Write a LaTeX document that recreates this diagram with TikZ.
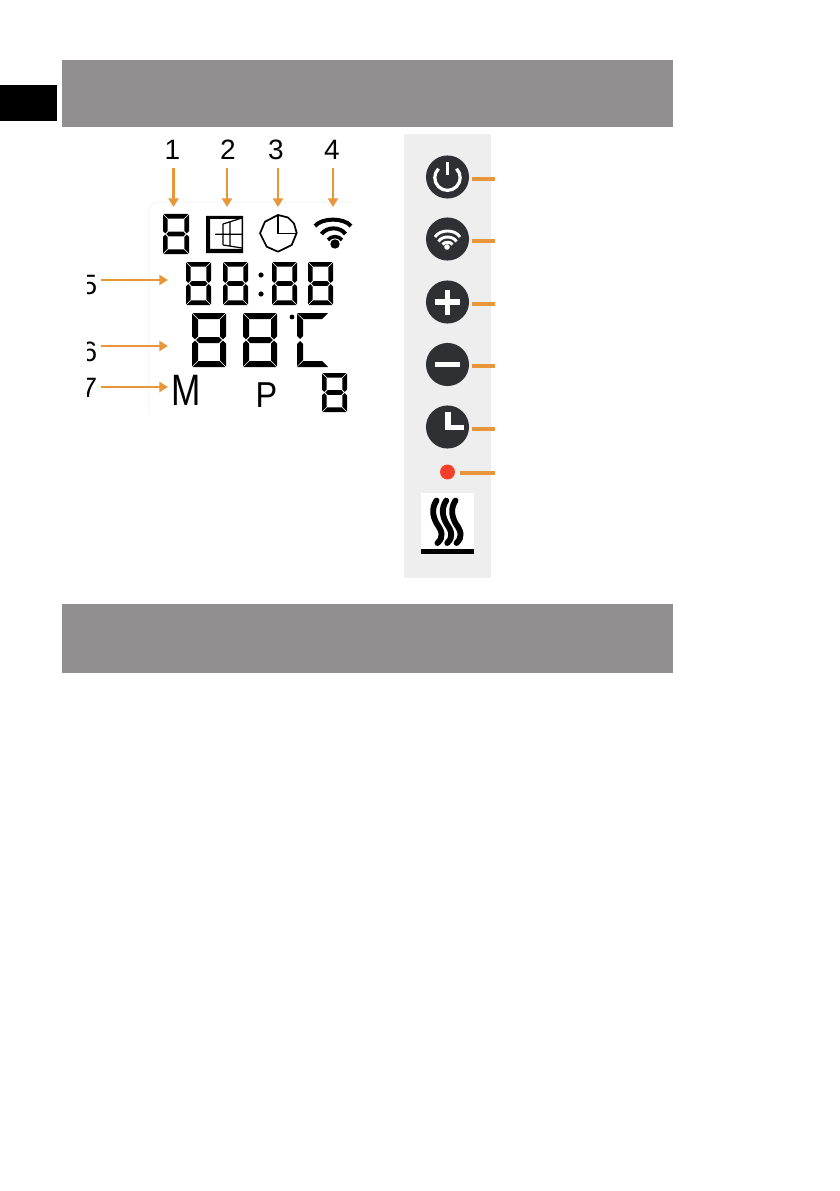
\documentclass[tikz,border=0pt]{standalone}
\usepackage{fontspec}
\setmainfont{Liberation Sans}
\usetikzlibrary{arrows.meta}
\definecolor{band}{HTML}{918F8F}
\definecolor{org}{HTML}{E8963A}
\definecolor{panel}{HTML}{EEEEEF}
\definecolor{btn}{HTML}{2F3033}
\definecolor{ledred}{HTML}{F44028}
\definecolor{frame}{HTML}{F3F3F3}
\tikzset{
  arr/.style={draw=org,line width=1.9,-{Triangle[length=6.5pt,width=7.5pt]},shorten >=0pt},
  stub/.style={draw=org,line width=3pt},
  num/.style={font=\fontsize{21}{21}\selectfont,inner sep=0pt,text=black},
  btnc/.style={circle,fill=btn,minimum size=32.3pt,inner sep=0pt},
  wht/.style={draw=white,line width=2.2pt},
}
% x y w h t (px); seven-segment digit
\newcommand{\lcddigit}[5]{%
  \begin{scope}[shift={(#1,#2)}]
    \pgfmathsetmacro\dw{#3}\pgfmathsetmacro\dh{#4}\pgfmathsetmacro\dt{#5}
    \pgfmathsetmacro\dg{0.6}
    \pgfmathsetmacro\dm{\dh/2}
    \fill (\dg,0) -- (\dw-\dg,0) -- (\dw-\dg-\dt,\dt) -- (\dg+\dt,\dt) -- cycle;
    \fill (\dg,\dh) -- (\dw-\dg,\dh) -- (\dw-\dg-\dt,\dh-\dt) -- (\dg+\dt,\dh-\dt) -- cycle;
    \fill (\dg+\dt*0.6,\dm) -- (\dg+\dt*1.1,\dm-\dt*0.5) -- (\dw-\dg-\dt*1.1,\dm-\dt*0.5) -- (\dw-\dg-\dt*0.6,\dm) -- (\dw-\dg-\dt*1.1,\dm+\dt*0.5) -- (\dg+\dt*1.1,\dm+\dt*0.5) -- cycle;
    \fill (0,\dg) -- (\dt,\dg+\dt) -- (\dt,\dm-\dg-\dt*0.5) -- (\dt*0.5,\dm-\dg) -- (0,\dm-\dg-\dt*0.5) -- cycle;
    \fill (0,\dh-\dg) -- (\dt,\dh-\dg-\dt) -- (\dt,\dm+\dg+\dt*0.5) -- (\dt*0.5,\dm+\dg) -- (0,\dm+\dg+\dt*0.5) -- cycle;
    \fill (\dw,\dg) -- (\dw-\dt,\dg+\dt) -- (\dw-\dt,\dm-\dg-\dt*0.5) -- (\dw-\dt*0.5,\dm-\dg) -- (\dw,\dm-\dg-\dt*0.5) -- cycle;
    \fill (\dw,\dh-\dg) -- (\dw-\dt,\dh-\dg-\dt) -- (\dw-\dt,\dm+\dg+\dt*0.5) -- (\dw-\dt*0.5,\dm+\dg) -- (\dw,\dm+\dg+\dt*0.5) -- cycle;
  \end{scope}}
\begin{document}
\begin{tikzpicture}[x=0.75pt,y=-0.75pt]
\useasboundingbox (0,0) rectangle (839,1191);
\fill[white] (0,0) rectangle (839,1191);
% header bands
\fill[band] (62,60) rectangle (673,127);
\fill[band] (62,604) rectangle (673,673);
\fill[black] (0,85) rectangle (57,121);
% faint LCD frame
\draw[frame,line width=0.7pt] (149,415) -- (149,208) -- (155,202) -- (352,202);
% numbers
\node[num] (n1) at (172.5,150) {1};
\node[num] (n2) at (228,150) {2};
\node[num] (n3) at (276,150) {3};
\node[num] (n4) at (332,150) {4};
\begin{scope}
  \clip (87.5,260) rectangle (99,410);
  \node[num] (n5) at (89.5,285) {5};
  \node[num] (n6) at (89.5,352) {6};
  \node[num] (n7) at (89.5,388) {7};
\end{scope}
% arrows
\coordinate (a1s) at (173.5,168); \coordinate (a1e) at (173.5,207);
\coordinate (a2s) at (227,168);   \coordinate (a2e) at (227,207);
\coordinate (a3s) at (278,168);   \coordinate (a3e) at (278,207);
\coordinate (a4s) at (333,168);   \coordinate (a4e) at (333,207);
\coordinate (a5s) at (101,280);   \coordinate (a5e) at (168,280);
\coordinate (a6s) at (101,346);   \coordinate (a6e) at (168,346);
\coordinate (a7s) at (101,387);   \coordinate (a7e) at (168,387);
\draw[arr] (a1s) -- (a1e);
\draw[arr] (a2s) -- (a2e);
\draw[arr] (a3s) -- (a3e);
\draw[arr] (a4s) -- (a4e);
\draw[arr] (a5s) -- (a5e);
\draw[arr] (a6s) -- (a6e);
\draw[arr] (a7s) -- (a7e);
% LCD digits
\lcddigit{163}{214}{26}{40}{4.6}
\lcddigit{186}{262}{25}{43}{4.6}
\lcddigit{223}{262}{25}{43}{4.6}
\lcddigit{272}{262}{25}{43}{4.6}
\lcddigit{308}{262}{25}{43}{4.6}
\fill (261,275) circle[radius=2.6];
\fill (261,294) circle[radius=2.6];
\lcddigit{192}{313}{34}{54}{6}
\lcddigit{243}{313}{34}{54}{6}
\fill (292,317) circle[radius=2.4];
% C segments
\fill (297,313) -- (328,313) -- (322,319) -- (303.5,319) -- cycle;
\fill (297,367) -- (328,367) -- (322,361) -- (303.5,361) -- cycle;
\fill (297,314) -- (303,320) -- (303,336) -- (300,339) -- (297,336) -- cycle;
\fill (297,366) -- (303,360) -- (303,344) -- (300,341) -- (297,344) -- cycle;
\lcddigit{322}{373}{25}{39}{4.6}
\node[inner sep=0pt,anchor=base,font=\fontsize{33}{33}\selectfont,xscale=0.8] (modeM) at (186,405) {M};
\node[inner sep=0pt,anchor=base,font=\fontsize{27}{27}\selectfont,xscale=0.9] (modeP) at (266.5,407) {P};
% window icon
\fill[even odd rule] (206,216) rectangle (243,253) (210,219) rectangle (241.5,249);
\draw[line width=0.9pt] (223,224) -- (242,218) (223,245) -- (242,248) (223,224) -- (223,245)
  (230,222) -- (230,246.5) (215,234.3) -- (242,234.3);
% clock icon
\draw[line width=1.3pt,line join=round] (278,215) -- (288,217.5) -- (294,223.5) -- (296.7,233) -- (291.7,245) -- (278,251.7) -- (266.7,246.7) -- (260,233.3) -- (265,221.7) -- cycle;
\draw[line width=1.2pt] (278,215) -- (278,233.5) -- (296.7,233.5);
% wifi icon LCD
\fill (335,244) circle[radius=4.7];
\draw[line width=3pt] (315,226) .. controls (322,217.5) and (344,217.5) .. (351,226);
\draw[line width=3pt] (321.5,234) .. controls (327,226.5) and (340,226.5) .. (345.5,234);
\draw[line width=2.6pt] (328,240) .. controls (331,235.5) and (339,235.5) .. (342,240);
% panel
\fill[panel] (404,134) rectangle (491,578);
\node[btnc] (b1) at (447.5,177) {};
\node[btnc] (b2) at (447.5,239) {};
\node[btnc] (b3) at (447.5,302) {};
\node[btnc] (b4) at (447.5,364.5) {};
\node[btnc] (b5) at (447.5,427) {};
\node[circle,fill=ledred,minimum size=11.2pt,inner sep=0pt] (led) at (447.5,472) {};
% power
\draw[draw=white,line width=2.4pt] (447.5,162) -- (447.5,175.5);
\draw[draw=white,line width=2.4pt] (438.5,168.7) arc[start angle=-135,delta angle=-270,radius=12.7];
% wifi
\fill[white] (447,247) circle[radius=2.8];
\draw[wht] (435,237) .. controls (440,229) and (455,229) .. (460,237);
\draw[wht] (438.5,241.5) .. controls (442,235.5) and (453,235.5) .. (456.5,241.5);
\draw[wht] (442.5,244.5) .. controls (444.5,241.5) and (450.5,241.5) .. (452.5,244.5);
% plus, minus, clock hands
\fill[white] (435,299.2) rectangle (460,304.8);
\fill[white] (444.7,289.5) rectangle (450.3,314.5);
\fill[white] (435,362) rectangle (460,367);
\fill[white] (445,412.3) rectangle (450.7,430);
\fill[white] (445,424.7) rectangle (464,430);
% stubs
\coordinate (s1a) at (472,178.7); \coordinate (s1b) at (495,178.7);
\coordinate (s2a) at (472,240.7); \coordinate (s2b) at (495,240.7);
\coordinate (s3a) at (472,303.7); \coordinate (s3b) at (495,303.7);
\coordinate (s4a) at (472,365.7); \coordinate (s4b) at (495,365.7);
\coordinate (s5a) at (472,428.7); \coordinate (s5b) at (495,428.7);
\coordinate (s6a) at (460,472.7); \coordinate (s6b) at (495,472.7);
\draw[stub] (s1a) -- (s1b);
\draw[stub] (s2a) -- (s2b);
\draw[stub] (s3a) -- (s3b);
\draw[stub] (s4a) -- (s4b);
\draw[stub] (s5a) -- (s5b);
\draw[stub] (s6a) -- (s6b);
% heat icon
\fill[white] (421,493) rectangle (474,550);
\fill[black] (421,549) rectangle (474,554);
\foreach \dx in {0,9.7,19}{
  \draw[black,line width=4.4pt,line cap=round,xshift=\dx*0.75pt]
    (436.5,500.5) .. controls (431,509) and (433,517) .. (437,524)
    .. controls (442,531) and (444,537) .. (437.5,543);
}
\end{tikzpicture}
\end{document}
